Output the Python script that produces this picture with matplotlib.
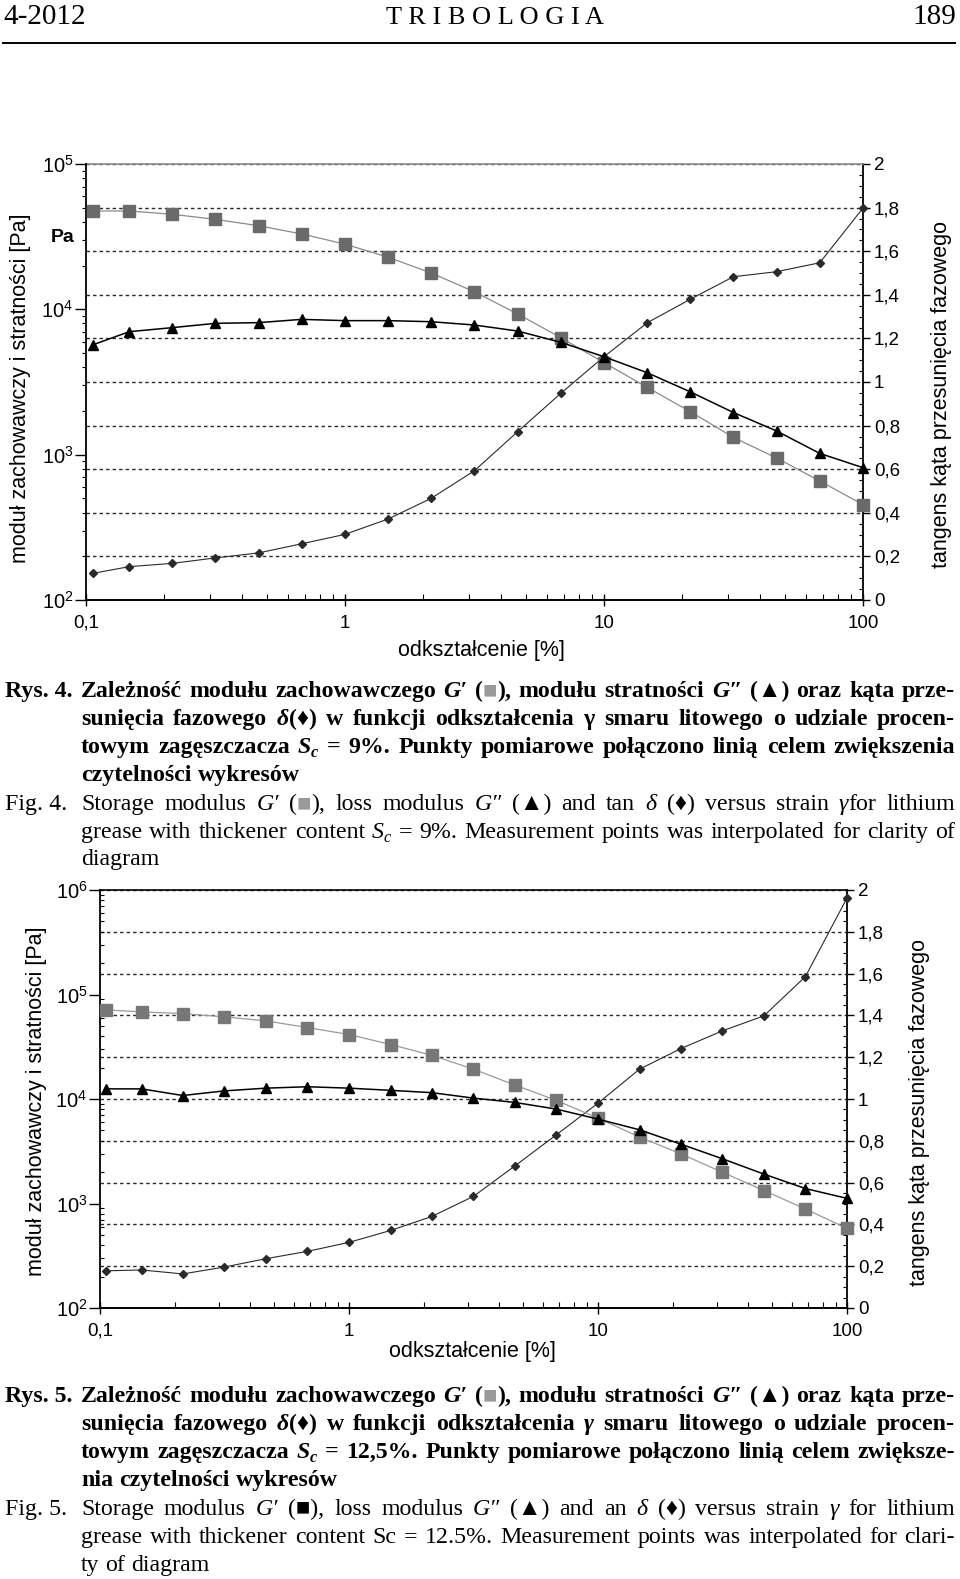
import math
import matplotlib
matplotlib.use('Agg')
import matplotlib.pyplot as plt
from matplotlib.ticker import FixedLocator, MultipleLocator, LogLocator, NullFormatter, FuncFormatter
from matplotlib.lines import Line2D

W, H = 960, 1579
SANS = ['Liberation Sans', 'DejaVu Sans']
SERIF = ['Liberation Serif', 'DejaVu Serif']
plt.rcParams['font.family'] = SANS

# strain [%] (same sweep for both greases)
strain = [0.106, 0.147, 0.215, 0.316, 0.464, 0.681, 1.0, 1.47, 2.15, 3.16,
          4.64, 6.81, 10.0, 14.7, 21.5, 31.6, 46.4, 68.1, 100.0]

# Rys. 4, Sc = 9 %
g4_storage = [47500, 47500, 45100, 41600, 37600, 33000, 28100, 22800, 17800, 13200,
              9300, 6380, 4300, 2900, 1980, 1315, 948, 659, 453]
g4_loss = [5690, 7020, 7480, 8010, 8100, 8530, 8360, 8360, 8220, 7800,
           7090, 5930, 4720, 3660, 2710, 1950, 1455, 1020, 814]
g4_tan = [0.122, 0.153, 0.168, 0.193, 0.216, 0.258, 0.301, 0.372, 0.466, 0.593,
          0.772, 0.948, 1.116, 1.272, 1.379, 1.483, 1.506, 1.547, 1.798]

# Rys. 5, Sc = 12,5 %
g5_storage = [71300, 68100, 65700, 61100, 55900, 48300, 41400, 33200, 26200, 19300,
              13600, 9680, 6560, 4320, 2990, 1990, 1330, 885, 578]
g5_loss = [12500, 12500, 10800, 11960, 12700, 13100, 12700, 12100, 11500, 10200,
           9270, 8000, 6420, 5070, 3700, 2680, 1910, 1390, 1120]
g5_tan = [0.178, 0.182, 0.163, 0.196, 0.236, 0.271, 0.314, 0.371, 0.438, 0.534,
          0.680, 0.829, 0.980, 1.143, 1.241, 1.326, 1.398, 1.586, 1.962]

x_ticks = [0.1, 1, 10, 100]
x_ticklabels = ['0,1', '1', '10', '100']

ylabel_left = 'moduł zachowawczy i stratności [Pa]'
ylabel_right = 'tangens kąta przesunięcia fazowego'
xlabel = 'odkształcenie [%]'

rys4 = [
    "Zależność modułu zachowawczego {G′} (<■>), modułu stratności {G″} (▲) oraz kąta prze-",
    "sunięcia fazowego {δ}(♦) w funkcji odkształcenia γ smaru litowego o udziale procen-",
    "towym zagęszczacza {S}[c] = 9%. Punkty pomiarowe połączono linią celem zwiększenia",
    "czytelności wykresów",
]
fig4 = [
    "Storage modulus {G′} (<■>), loss modulus {G″} (▲) and tan {δ} (♦) versus strain {γ}for lithium",
    "grease with thickener content {S}[c] = 9%. Measurement points was interpolated for clarity of",
    "diagram",
]
rys5 = [
    "Zależność modułu zachowawczego {G′} (<■>), modułu stratności {G″} (▲) oraz kąta prze-",
    "sunięcia fazowego {δ}(♦) w funkcji odkształcenia {γ} smaru litowego o udziale procen-",
    "towym zagęszczacza {S}[c] = 12,5%. Punkty pomiarowe połączono linią celem zwiększe-",
    "nia czytelności wykresów",
]
fig5 = [
    "Storage modulus {G′} (■), loss modulus {G″} (▲) and an {δ} (♦) versus strain {γ} for lithium",
    "grease with thickener content Sc = 12.5%. Measurement points was interpolated for clari-",
    "ty of diagram",
]

fig = plt.figure(figsize=(W / 100, H / 100), dpi=100)
fig.patch.set_facecolor('white')


def fx(px):
    return px / W


def fy(py):
    return 1 - py / H


def tan_fmt(v, pos):
    return f'{v:.1f}'.rstrip('0').rstrip('.').replace('.', ',')


def pow_fmt(v, pos):
    return r'$\mathregular{10^{%d}}$' % round(math.log10(v))


def panel(box, storage, loss, tan, g_top, top_color, sq_color, sq_line, minor_dir):
    x0, y0, x1, y1 = box
    ax = fig.add_axes([fx(x0), fy(y1), (x1 - x0) / W, (y1 - y0) / H])
    ax.set_xscale('log')
    ax.set_xlim(0.1, 100)
    ax.set_ylim(0, 2)
    axg = ax.twinx()
    axg.set_yscale('log')
    axg.set_ylim(1e2, g_top)
    ax.yaxis.tick_right()
    axg.yaxis.tick_left()

    # tan delta scale (right) + dashed grid
    ax.yaxis.set_major_locator(MultipleLocator(0.2))
    ax.yaxis.set_minor_locator(MultipleLocator(0.05))
    ax.yaxis.set_major_formatter(FuncFormatter(tan_fmt))
    ax.yaxis.grid(True, which='major', linestyle=(0, (2.5, 2.2)), color='#2a2a2a', lw=1.0)
    ax.tick_params(axis='y', which='major', direction='out', length=5, width=1,
                   labelsize=13.5, pad=3)
    ax.tick_params(axis='y', which='minor', direction='in', length=3, width=0.8)

    ax.set_xticks(x_ticks, x_ticklabels)
    ax.xaxis.set_minor_locator(LogLocator(base=10, subs=range(2, 10)))
    ax.xaxis.set_minor_formatter(NullFormatter())
    ax.tick_params(axis='x', which='major', direction='inout', length=9, width=1,
                   labelsize=13.5, pad=6)
    ax.tick_params(axis='x', which='minor', direction='in', length=4, width=0.8)

    # moduli scale (left)
    g_ticks = [10.0 ** k for k in range(2, round(math.log10(g_top)) + 1)]
    axg.yaxis.set_major_locator(FixedLocator(g_ticks))
    axg.yaxis.set_major_formatter(FuncFormatter(pow_fmt))
    axg.yaxis.set_minor_locator(LogLocator(base=10, subs=range(2, 10)))
    axg.yaxis.set_minor_formatter(NullFormatter())
    axg.tick_params(axis='y', which='major', direction='out', length=8, width=1,
                    labelsize=14.5, pad=1)
    axg.tick_params(axis='y', which='minor', direction=minor_dir, length=3, width=0.8)

    for s in ['top', 'right', 'bottom']:
        axg.spines[s].set_visible(False)
    axg.spines['left'].set_linewidth(1.3)
    ax.spines['left'].set_visible(False)
    ax.spines['top'].set_color(top_color)
    ax.spines['top'].set_linewidth(1.2)
    ax.spines['right'].set_linewidth(1.3)
    ax.spines['bottom'].set_linewidth(1.4)

    ax.plot(strain, tan, color='#2a2a2a', lw=0.8, marker='D', ms=4.5, clip_on=False, zorder=3)
    axg.plot(strain, storage, color=sq_line, lw=0.9, marker='s', ms=8.5,
             mfc=sq_color, mec=sq_color, clip_on=False, zorder=3)
    axg.plot(strain, loss, color='black', lw=1.1, marker='^', ms=7.5, clip_on=False, zorder=4)
    return ax, axg


# ---- header
fig.text(fx(3), fy(24), '4-2012', fontsize=21, family=SERIF, va='baseline', ha='left')
fig.text(fx(495), fy(24), 'T R I B O L O G I A', fontsize=19, family=SERIF, va='baseline', ha='center')
fig.text(fx(956), fy(24), '189', fontsize=21, family=SERIF, va='baseline', ha='right')
fig.add_artist(Line2D([fx(3), fx(955)], [fy(43), fy(43)], color='black', lw=1.4,
                      transform=fig.transFigure))

# ---- Rys. 4 chart
ax4, axg4 = panel((86, 164, 863, 600), g4_storage, g4_loss, g4_tan, 1e5,
                  '#8a8a8a', '#6a6a6a', '#8a8a8a', 'out')
fig.text(fx(63), fy(238), 'Pa', fontsize=14, weight='bold', ha='center', va='center')
fig.text(fx(21), fy(388), ylabel_left, rotation=90, fontsize=15.5, ha='center', va='center')
fig.text(fx(942), fy(395), ylabel_right, rotation=90, fontsize=15.5, ha='center', va='center')
fig.text(fx(481), fy(650), xlabel, fontsize=15.5, ha='center', va='center')

# ---- Rys. 5 chart
ax5, axg5 = panel((100, 890, 847, 1308), g5_storage, g5_loss, g5_tan, 1e6,
                  'black', '#777777', '#9a9a9a', 'in')
fig.text(fx(37), fy(1101), ylabel_left, rotation=90, fontsize=15.5, ha='center', va='center')
fig.text(fx(919), fy(1112), ylabel_right, rotation=90, fontsize=15.5, ha='center', va='center')
fig.text(fx(472), fy(1352), xlabel, fontsize=15.5, ha='center', va='center')

# ---- captions (justified by hand)
renderer = fig.canvas.get_renderer()
CAP = 17.2


def parse(word):
    segs, mode, buf = [], '', ''
    for ch in word:
        if ch in '{[<':
            if buf:
                segs.append((buf, mode))
            buf, mode = '', {'{': 'i', '[': 'sub', '<': 'gray'}[ch]
        elif ch in '}]>':
            if buf:
                segs.append((buf, mode))
            buf, mode = '', ''
        else:
            buf += ch
    if buf:
        segs.append((buf, mode))
    return segs


def seg_text(s, st, weight):
    kw = dict(fontsize=CAP, family=SERIF, weight=weight, va='baseline', ha='left')
    if st in ('i', 'sub'):
        kw['style'] = 'italic'
    if st == 'sub':
        kw['fontsize'] = CAP * 0.68
    if st == 'gray':
        kw['color'] = '#9a9a9a'
    return fig.text(0, 0, s, **kw)


def text_line(line, x0, x1, base, weight, justify):
    words = []
    for w in line.split(' '):
        parts = []
        for s, st in parse(w):
            t = seg_text(s, st, weight)
            parts.append((t, st, t.get_window_extent(renderer).width))
        words.append(parts)
    widths = [sum(p[2] for p in parts) for parts in words]
    gap = 0.25 * CAP * 100 / 72
    if justify and len(words) > 1:
        gap = (x1 - x0 - sum(widths)) / (len(words) - 1)
    x = x0
    for parts in words:
        for t, st, w in parts:
            dy = 4 if st == 'sub' else 0
            t.set_position((fx(x), fy(base + dy)))
            x += w
        x += gap


def caption(label, lines, bases, weight):
    fig.text(fx(5), fy(bases[0]), label, fontsize=CAP, family=SERIF, weight=weight,
             va='baseline', ha='left')
    for i, (line, b) in enumerate(zip(lines, bases)):
        text_line(line, 81, 955, b, weight, i < len(lines) - 1)


caption('Rys. 4.', rys4, [697, 725, 753, 781], 'bold')
caption('Fig. 4.', fig4, [810, 838, 865], 'normal')
caption('Rys. 5.', rys5, [1402, 1430, 1458, 1486], 'bold')
caption('Fig. 5.', fig5, [1515, 1543, 1571], 'normal')

fig.savefig('out.png', dpi=100)
